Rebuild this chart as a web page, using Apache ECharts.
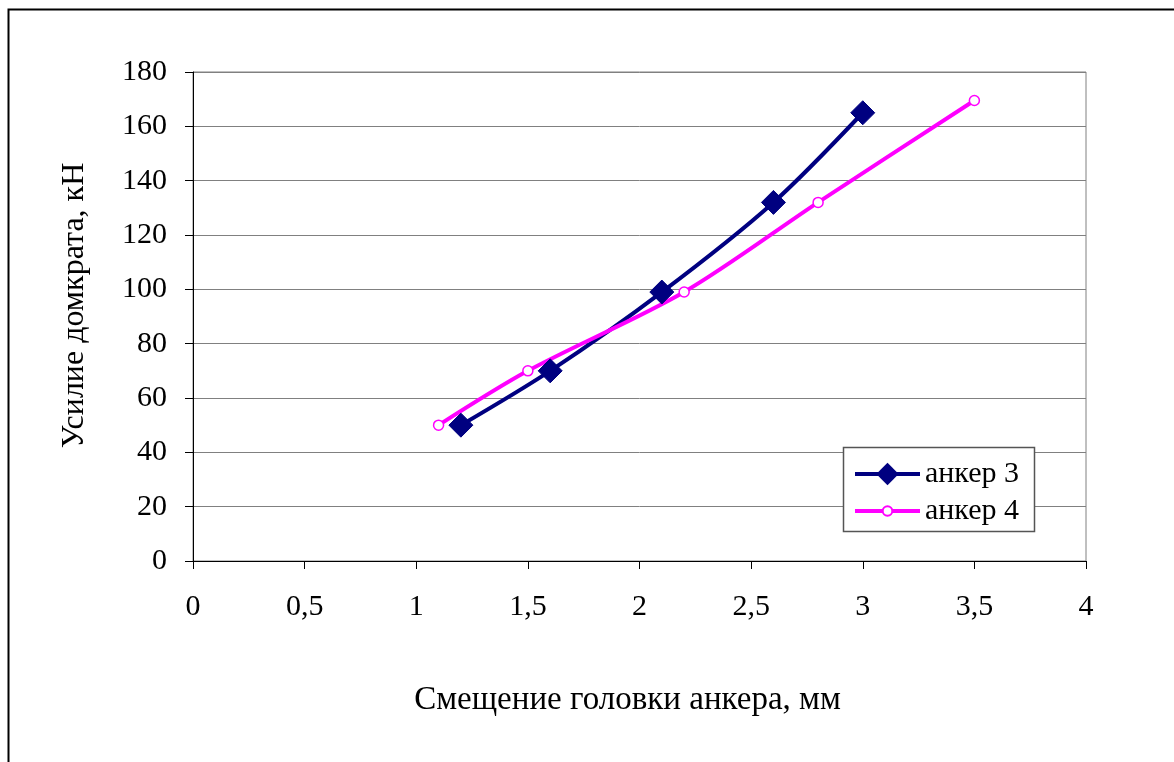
<!DOCTYPE html>
<html><head><meta charset="utf-8">
<script src="https://cdn.jsdelivr.net/npm/echarts@6/dist/echarts.min.js"></script>
<style>html,body{margin:0;padding:0;background:#fff}#c{width:1174px;height:762px}</style>
</head><body><div id="c"></div>
<script>
const seriesNames = ['анкер 3', 'анкер 4'];
const anker3X = [1.2, 1.6, 2.1, 2.6, 3.0];
const anker3Y = [50, 70, 99, 132, 165];
const anker4X = [1.1, 1.5, 2.2, 2.8, 3.5];
const anker4Y = [50, 70, 99, 132, 169.5];
const xTitle = 'Смещение головки анкера, мм';
const yTitle = 'Усилие домкрата, кН';

const font = '"Liberation Serif", "Times New Roman", serif';
const legendText = {fontFamily: font, fontSize: 30, color: '#000'};
const chart = echarts.init(document.getElementById('c'));
chart.setOption({
  animation: false,
  backgroundColor: '#fff',
  graphic: [
    {type: 'rect', shape: {x: 8.5, y: 9.5, width: 1200, height: 800}, style: {fill: 'none', stroke: '#000', lineWidth: 2}, z: 0},
    {type: 'rect', shape: {x: 843.5, y: 447.5, width: 191, height: 84}, style: {fill: '#fff', stroke: '#555', lineWidth: 1.5}, z: 5}
  ],
  grid: {left: 193, right: 88, top: 72, bottom: 201, show: true, borderColor: '#808080', borderWidth: 1},
  xAxis: {
    type: 'value', min: 0, max: 4, interval: 0.5,
    name: xTitle, nameLocation: 'middle', nameGap: 123,
    nameTextStyle: {fontFamily: font, fontSize: 33, color: '#000', padding: [0, 24, 0, 0]},
    axisLine: {show: true, lineStyle: {color: '#000', width: 1}},
    axisTick: {show: true, inside: false, length: 8, lineStyle: {color: '#000'}},
    axisLabel: {fontFamily: font, fontSize: 30, color: '#000', margin: 31,
      formatter: v => String(v).replace('.', ',')},
    splitLine: {show: false}
  },
  yAxis: {
    type: 'value', min: 0, max: 180, interval: 20,
    name: yTitle, nameLocation: 'middle', nameGap: 102, nameRotate: 90,
    nameTextStyle: {fontFamily: font, fontSize: 32, color: '#000', padding: [0, 0, 0, 22]},
    axisLine: {show: true, lineStyle: {color: '#000', width: 1}},
    axisTick: {show: true, inside: false, length: 8, lineStyle: {color: '#000'}},
    axisLabel: {fontFamily: font, fontSize: 30, color: '#000', margin: 26},
    splitLine: {show: true, lineStyle: {color: '#808080', width: 1}}
  },
  legend: [
    {left: 853, top: 459, padding: 0, itemWidth: 65, itemHeight: 28, z: 10,
     lineStyle: {width: 4},
     textStyle: Object.assign({lineHeight: 28}, legendText), data: [seriesNames[0]]},
    {left: 853, top: 496, padding: 0, itemWidth: 65, itemHeight: 12, z: 10,
     lineStyle: {width: 4},
     textStyle: Object.assign({lineHeight: 30}, legendText), data: [seriesNames[1]]}
  ],
  series: [
    {name: seriesNames[0], type: 'line', smooth: 0.3,
     data: anker3X.map((x, i) => [x, anker3Y[i]]),
     symbol: 'diamond', symbolSize: 24,
     lineStyle: {color: '#000080', width: 4},
     itemStyle: {color: '#000080', borderColor: '#000080'}},
    {name: seriesNames[1], type: 'line', smooth: 0.3,
     data: anker4X.map((x, i) => [x, anker4Y[i]]),
     symbol: 'circle', symbolSize: 10,
     lineStyle: {color: '#ff00ff', width: 4},
     itemStyle: {color: '#fff', borderColor: '#ff00ff', borderWidth: 1.5}}
  ]
});
</script></body></html>
